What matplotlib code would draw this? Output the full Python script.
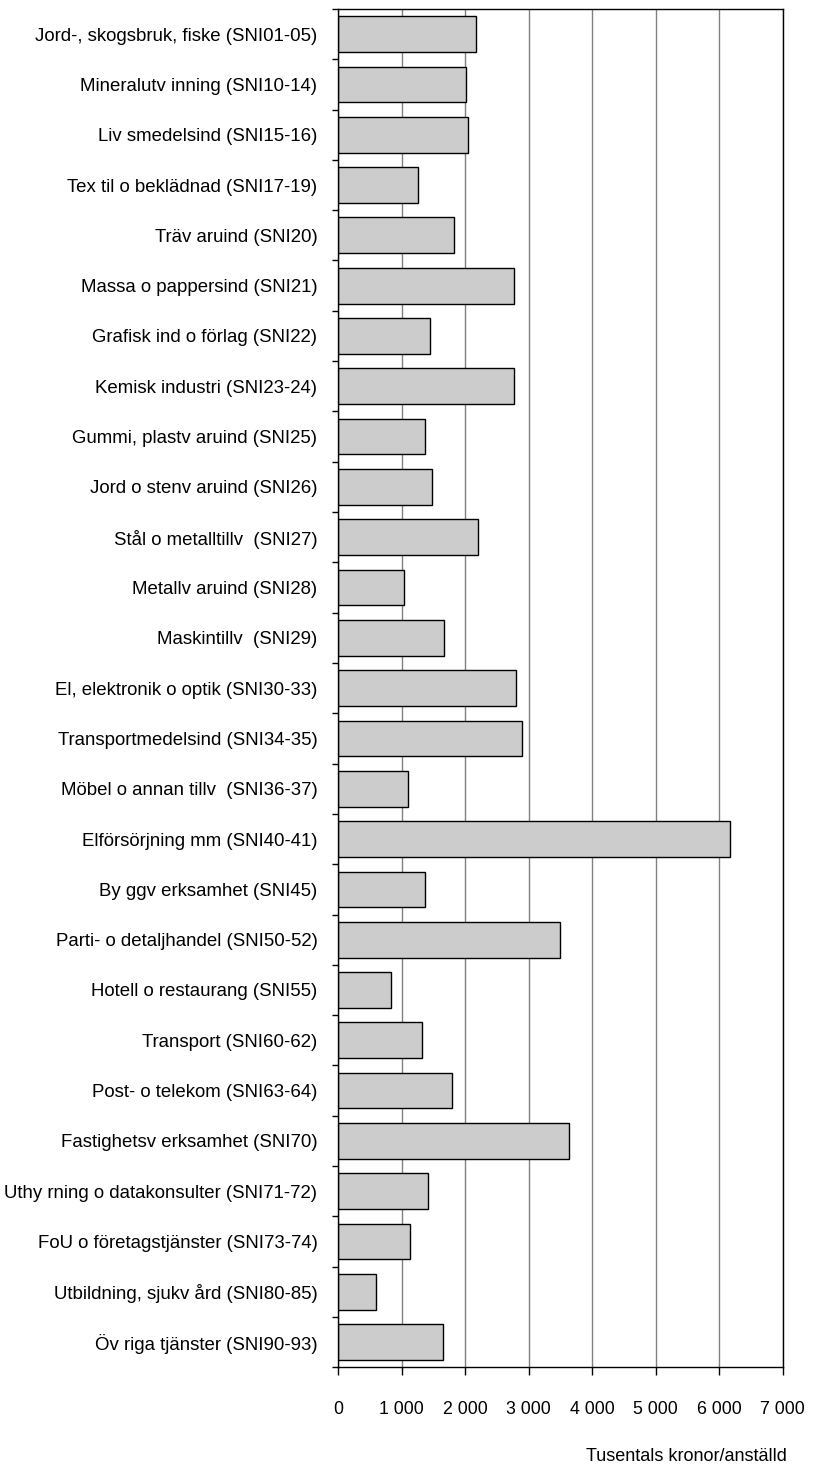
import matplotlib

matplotlib.use("Agg")
import matplotlib.pyplot as plt
import numpy as np
from matplotlib.ticker import FuncFormatter, MultipleLocator

CATEGORIES = [
    "Jord-, skogsbruk, fiske (SNI01-05)",
    "Mineralutv inning (SNI10-14)",
    "Liv smedelsind (SNI15-16)",
    "Tex til o beklädnad (SNI17-19)",
    "Träv aruind (SNI20)",
    "Massa o pappersind (SNI21)",
    "Grafisk ind o förlag (SNI22)",
    "Kemisk industri (SNI23-24)",
    "Gummi, plastv aruind (SNI25)",
    "Jord o stenv aruind (SNI26)",
    "Stål o metalltillv  (SNI27)",
    "Metallv aruind (SNI28)",
    "Maskintillv  (SNI29)",
    "El, elektronik o optik (SNI30-33)",
    "Transportmedelsind (SNI34-35)",
    "Möbel o annan tillv  (SNI36-37)",
    "Elförsörjning mm (SNI40-41)",
    "By ggv erksamhet (SNI45)",
    "Parti- o detaljhandel (SNI50-52)",
    "Hotell o restaurang (SNI55)",
    "Transport (SNI60-62)",
    "Post- o telekom (SNI63-64)",
    "Fastighetsv erksamhet (SNI70)",
    "Uthy rning o datakonsulter (SNI71-72)",
    "FoU o företagstjänster (SNI73-74)",
    "Utbildning, sjukv ård (SNI80-85)",
    "Öv riga tjänster (SNI90-93)",
]

VALUES = [
    2175, 2015, 2050, 1260, 1830, 2770, 1450, 2770, 1360, 1480,
    2205, 1040, 1665, 2800, 2895, 1100, 6175, 1360, 3500, 825,
    1325, 1795, 3630, 1415, 1130, 600, 1645,
]

X_MAX = 7000
X_LABEL = "Tusentals kronor/anställd"

plt.rcParams["font.family"] = ["Liberation Sans", "DejaVu Sans"]

fig = plt.figure(figsize=(8.21, 14.68), dpi=100)
ax = fig.add_axes([0.412, 0.0686, 0.5414, 0.9253])

y = np.arange(len(CATEGORIES))
ax.barh(y, VALUES, height=0.71, color="#cccccc", edgecolor="black", linewidth=1.0, zorder=3)

ax.set_ylim(len(CATEGORIES) - 0.5, -0.5)
ax.set_xlim(0, X_MAX)

ax.set_yticks(y)
ax.set_yticklabels(CATEGORIES, fontsize=13.4)
ax.set_yticks(np.arange(len(CATEGORIES) + 1) - 0.5, minor=True)
ax.tick_params(axis="y", which="major", length=0, pad=15)
ax.tick_params(axis="y", which="minor", length=4, width=1, direction="out")

ax.xaxis.set_major_locator(MultipleLocator(1000))
ax.xaxis.set_major_formatter(FuncFormatter(lambda v, _: f"{int(v):,}".replace(",", " ")))
ax.tick_params(axis="x", which="major", length=6, width=1, direction="out", pad=18, labelsize=12.8)

ax.grid(axis="x", color="#808080", linewidth=1.0, zorder=0)
ax.set_axisbelow(True)
for spine in ax.spines.values():
    spine.set_color("black")
    spine.set_linewidth(1.0)
    spine.set_zorder(4)

fig.text(0.958, 0.0048, X_LABEL, ha="right", va="baseline", fontsize=13)

fig.savefig("out.png", dpi=100)
